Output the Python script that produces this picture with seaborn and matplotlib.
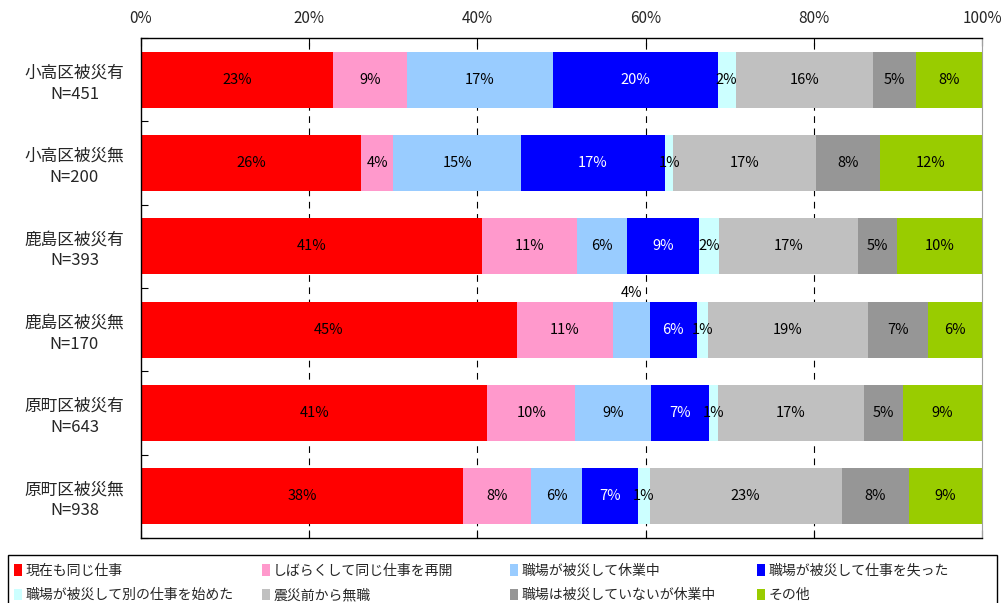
import pandas as pd
import numpy as np
import matplotlib
matplotlib.use('Agg')
import matplotlib.pyplot as plt
from matplotlib.patches import Patch, Rectangle
import seaborn as sns

# Groups and sample sizes
areas = ['小高区被災有', '小高区被災無', '鹿島区被災有', '鹿島区被災無', '原町区被災有', '原町区被災無']
n_counts = [451, 200, 393, 170, 643, 938]

# Series (percent of each group)
same_job = [22.8, 26.2, 40.6, 44.7, 41.2, 38.3]
resumed = [8.8, 3.8, 11.3, 11.4, 10.4, 8.1]
closed_by_disaster = [17.4, 15.2, 5.9, 4.4, 9.0, 6.1]
lost_job = [19.6, 17.1, 8.6, 5.6, 6.9, 6.6]
new_job = [2.1, 1.0, 2.3, 1.3, 1.1, 1.4]
no_job_before = [16.4, 17.0, 16.6, 19.1, 17.4, 22.8]
closed_other = [5.0, 7.6, 4.6, 7.1, 4.6, 8.0]
other = [7.9, 12.1, 10.1, 6.4, 9.4, 8.7]

series_names = ['現在も同じ仕事', 'しばらくして同じ仕事を再開', '職場が被災して休業中', '職場が被災して仕事を失った',
                '職場が被災して別の仕事を始めた', '震災前から無職', '職場は被災していないが休業中', 'その他']
series_values = [same_job, resumed, closed_by_disaster, lost_job, new_job, no_job_before, closed_other, other]
colors = ['#FF0000', '#FF99CC', '#99CCFF', '#0000FF', '#CCFFFF', '#C0C0C0', '#969696', '#99CC00']
label_colors = ['black', 'black', 'black', 'white', 'black', 'black', 'black', 'black']

sns.set_theme(style='white')
plt.rcParams['font.family'] = ['Noto Sans CJK JP', 'DejaVu Sans']

labels = [f'{a}\nN={n}' for a, n in zip(areas, n_counts)]
df = pd.DataFrame(np.array(series_values).T, columns=series_names)
df['group'] = labels
cum = df[series_names].cumsum(axis=1)
start = cum - df[series_names]

fig, ax = plt.subplots(figsize=(10.02, 6.03), dpi=100)
fig.subplots_adjust(left=0.1407, right=0.98, top=0.937, bottom=0.1078)

# dashed grid behind bars
for gx in [20, 40, 60, 80]:
    ax.axvline(gx, color='black', linestyle=(0, (6, 5)), linewidth=0.8, zorder=0)

# stacked bars: draw cumulative totals from the last series back to the first
for i in range(len(series_names) - 1, -1, -1):
    plot_df = pd.DataFrame({'group': labels, 'end': cum[series_names[i]].values})
    sns.barplot(data=plot_df, x='end', y='group', color=colors[i], saturation=1,
                width=0.67, linewidth=0, ax=ax, zorder=2)

# value labels
for i, name in enumerate(series_names):
    for r in range(len(labels)):
        v = df[name].iloc[r]
        xc = start[name].iloc[r] + v / 2
        yc = r
        if name == '職場が被災して休業中' and r == 3:
            yc = r - 0.44
        ax.text(xc, yc, f'{v:.0f}%', ha='center', va='center', fontsize=10.5,
                color=label_colors[i], zorder=3)

ax.set_xlim(0, 100)
ax.set_ylim(5.5, -0.5)
ax.set_xlabel('')
ax.set_ylabel('')
ax.set_xticks([0, 20, 40, 60, 80, 100])
ax.set_xticklabels([f'{t}%' for t in [0, 20, 40, 60, 80, 100]], fontsize=11)
ax.tick_params(axis='x', which='major', top=True, bottom=True, labeltop=True, labelbottom=False,
               direction='in', length=6, width=0.8, color='black', pad=8)
ax.set_yticks(range(len(labels)))
ax.set_yticklabels(labels, fontsize=12, multialignment='center', linespacing=1.3)
ax.tick_params(axis='y', which='major', length=0, pad=12)
ax.set_yticks(np.arange(-0.5, 6.0, 1.0), minor=True)
ax.tick_params(axis='y', which='minor', left=True, direction='in', length=5, width=0.8, color='black')

for side in ['left', 'top', 'bottom']:
    ax.spines[side].set_color('black')
    ax.spines[side].set_linewidth(1.0)
ax.spines['right'].set_color('#A0A0A0')
ax.spines['right'].set_linewidth(0.8)

# legend: box with four evenly spaced columns, filled row by row
fig.patches.append(Rectangle((8 / 1002, -0.01), 989 / 1002, 0.089, transform=fig.transFigure,
                             facecolor='white', edgecolor='black', linewidth=1.0, zorder=0))
col_x = [14 / 1002, 262 / 1002, 510 / 1002, 757 / 1002]
for c in range(4):
    hs = [Patch(facecolor=colors[k], edgecolor='none', label=series_names[k]) for k in (c, c + 4)]
    lg = fig.legend(handles=hs, loc='upper left', bbox_to_anchor=(col_x[c], 0.065),
                    fontsize=10, handlelength=0.6, handleheight=0.9, handletextpad=0.2,
                    frameon=False, borderaxespad=0, borderpad=0, labelspacing=0.75)

plt.savefig('out.png', dpi=100)
